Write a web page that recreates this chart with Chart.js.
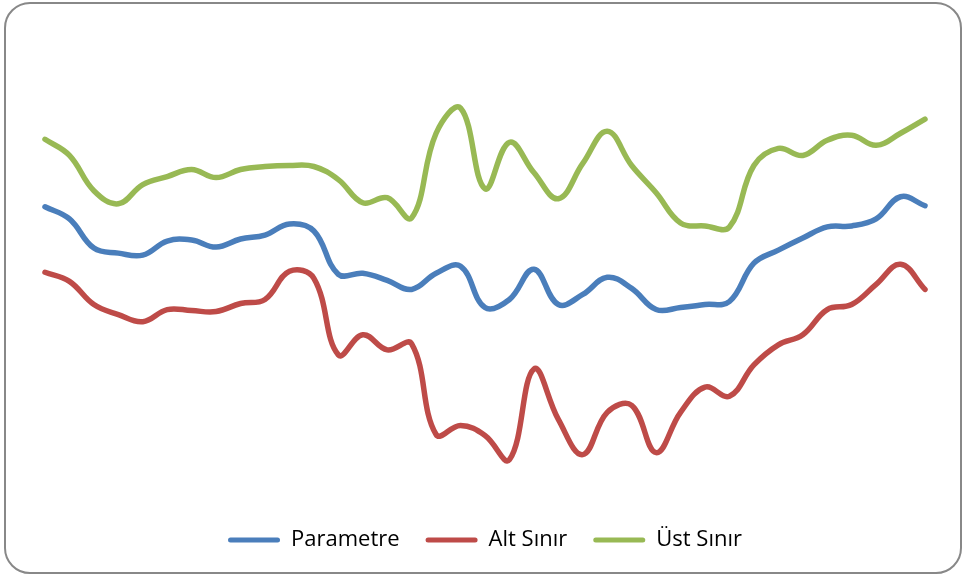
<!DOCTYPE html>
<html>
<head>
<meta charset="utf-8">
<script src="https://cdn.jsdelivr.net/npm/chart.js@4"></script>
<style>
  html, body { margin: 0; padding: 0; background: #fff; }
  #wrap { position: relative; width: 964px; height: 574px; overflow: hidden; }
  #frame {
    position: absolute; left: 4px; top: 2px; width: 954px; height: 568px;
    border: 2px solid #888; border-radius: 26px; pointer-events: none;
  }
  canvas { position: absolute; left: 0; top: 0; }
</style>
</head>
<body>
<div id="wrap">
  <canvas id="chart" width="964" height="574"></canvas>
  <div id="frame"></div>
</div>
<script>
// Categories (no axis labels shown in the picture)
const categories = ['1','2','3','4','5','6','7','8','9','10','11','12','13','14','15','16','17','18','19',
  '20','21','22','23','24','25','26','27','28','29','30','31','32','33','34','35','36','37'];

const parametre = [29.4, 28.2, 25.3, 24.8, 24.6, 26.0, 26.1, 25.4, 26.2, 26.6, 27.7, 27.0, 22.7, 22.8, 22.1, 21.2,
  22.8, 23.5, 19.4, 20.2, 23.2, 19.7, 20.7, 22.4, 21.3, 19.2, 19.4, 19.7, 20.0, 23.8, 25.1, 26.3, 27.4, 27.5,
  28.2, 30.4, 29.5];

const altSinir = [22.9, 22.0, 19.7, 18.7, 18.0, 19.2, 19.1, 19.0, 19.8, 20.2, 23.0, 22.3, 14.7, 16.7, 15.2, 15.8,
  6.8, 7.7, 6.7, 4.3, 13.3, 8.3, 4.8, 9.0, 9.7, 5.0, 9.0, 11.5, 10.6, 13.7, 15.7, 16.7, 19.2, 19.7, 21.7, 23.7,
  21.2];

const ustSinir = [36.1, 34.5, 31.0, 29.7, 31.6, 32.4, 33.1, 32.3, 33.1, 33.4, 33.5, 33.4, 32.1, 29.8, 30.3, 28.3,
  36.7, 39.2, 31.2, 35.8, 32.8, 30.2, 33.7, 36.9, 33.5, 30.8, 27.8, 27.5, 27.4, 33.5, 35.2, 34.5, 36.0, 36.5,
  35.5, 36.7, 38.1];

const seriesNames = ['Parametre', 'Alt Sınır', 'Üst Sınır'];
const seriesColors = ['#4A7EBB', '#BE4B48', '#98B954'];

function lineSet(label, data, color) {
  return {
    label: label,
    data: data,
    borderColor: color,
    backgroundColor: color,
    borderWidth: 5.5,
    borderCapStyle: 'round',
    borderJoinStyle: 'round',
    pointRadius: 0,
    pointHoverRadius: 0,
    tension: 0.4,
    fill: false,
    clip: false
  };
}

const ctx = document.getElementById('chart').getContext('2d');
new Chart(ctx, {
  type: 'line',
  data: {
    labels: categories,
    datasets: [
      lineSet(seriesNames[0], parametre, seriesColors[0]),
      lineSet(seriesNames[1], altSinir, seriesColors[1]),
      lineSet(seriesNames[2], ustSinir, seriesColors[2])
    ]
  },
  options: {
    responsive: false,
    animation: false,
    layout: { padding: { left: 45, right: 39, top: 100, bottom: 13 } },
    scales: {
      x: { display: false, offset: false },
      y: { display: false, min: 0, max: 40 }
    },
    plugins: {
      tooltip: { enabled: false },
      legend: {
        position: 'bottom',
        labels: {
          boxWidth: 52,
          boxHeight: 5,
          padding: 26,
          color: '#000',
          useBorderRadius: true,
          font: { family: '"Open Sans", sans-serif', size: 22 },
          generateLabels: chart => chart.data.datasets.map((ds, i) => ({
            text: ds.label,
            fillStyle: ds.borderColor,
            strokeStyle: ds.borderColor,
            lineWidth: 0,
            borderRadius: 2.5,
            hidden: false,
            datasetIndex: i
          }))
        }
      }
    }
  }
});
</script>
</body>
</html>
